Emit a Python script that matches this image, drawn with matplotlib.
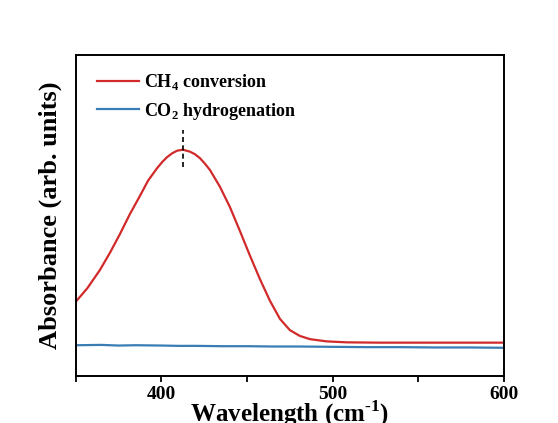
import matplotlib
matplotlib.use("Agg")
import matplotlib.pyplot as plt

plt.rcParams['font.family'] = ['Liberation Serif', 'DejaVu Serif']
plt.rcParams['font.weight'] = 'bold'
plt.rcParams['mathtext.fontset'] = 'custom'
plt.rcParams['mathtext.rm'] = 'Liberation Serif:bold'
plt.rcParams['mathtext.bf'] = 'Liberation Serif:bold'

# CH4 conversion spectrum
ch4_x = [350.0, 356.6, 364.0, 369.9, 375.7, 381.5, 387.4, 392.2, 397.5, 400.5,
         403.3, 406.3, 409.2, 412.5, 416.6, 419.5, 422.4, 425.3, 428.3, 434.1,
         440.0, 445.8, 451.6, 457.5, 463.3, 469.2, 475.0, 480.8, 486.7, 496.4,
         508.1, 527.6, 560.0, 600.0]
ch4_y = [0.232, 0.273, 0.330, 0.384, 0.442, 0.504, 0.561, 0.609, 0.648, 0.667,
         0.682, 0.694, 0.702, 0.705, 0.699, 0.691, 0.679, 0.662, 0.642, 0.590,
         0.526, 0.452, 0.376, 0.302, 0.235, 0.178, 0.143, 0.125, 0.115, 0.108,
         0.105, 0.104, 0.104, 0.104]

# CO2 hydrogenation spectrum
co2_x = [350, 365, 375, 385, 400, 410, 420, 435, 450, 465, 480, 500, 520, 540, 560, 580, 600]
co2_y = [0.096, 0.097, 0.095, 0.096, 0.095, 0.094, 0.094, 0.093, 0.093, 0.092, 0.092,
         0.091, 0.090, 0.090, 0.089, 0.089, 0.088]

peak_x = 412.5
peak_y = [0.652, 0.766]

fig = plt.figure(figsize=(5.58, 4.23), dpi=100)
ax = fig.add_axes([0.136, 0.111, 0.767, 0.759])

ax.plot(ch4_x, ch4_y, color='#d22a2a', lw=1.6, label='CH$_4$ conversion')
ax.plot(co2_x, co2_y, color='#3a7db5', lw=1.6, label='CO$_2$ hydrogenation')
ax.plot([peak_x, peak_x], peak_y, color='black', lw=1.2, ls=(0, (3, 2)))

ax.set_xlim(350, 600)
ax.set_ylim(0, 1)
ax.set_xticks([400, 500, 600])
ax.set_xticks([350, 450, 550], minor=True)
ax.set_yticks([])
ax.tick_params(axis='x', which='both', direction='out', width=1.3, length=4, labelsize=14, pad=3)
for s in ax.spines.values():
    s.set_linewidth(1.4)

ax.set_xlabel('Wavelength (cm$^{\\text{-1}}$)', fontsize=18, fontweight='bold', labelpad=-3)
ax.set_ylabel('Absorbance (arb. units)', fontsize=19, fontweight='bold', labelpad=10)

leg = ax.legend(loc='upper left', frameon=False, fontsize=13, handlelength=2.3,
                handletextpad=0.3, borderaxespad=0.0, labelspacing=0.45,
                bbox_to_anchor=(0.033, 0.968))

fig.savefig('out.png', dpi=100)
